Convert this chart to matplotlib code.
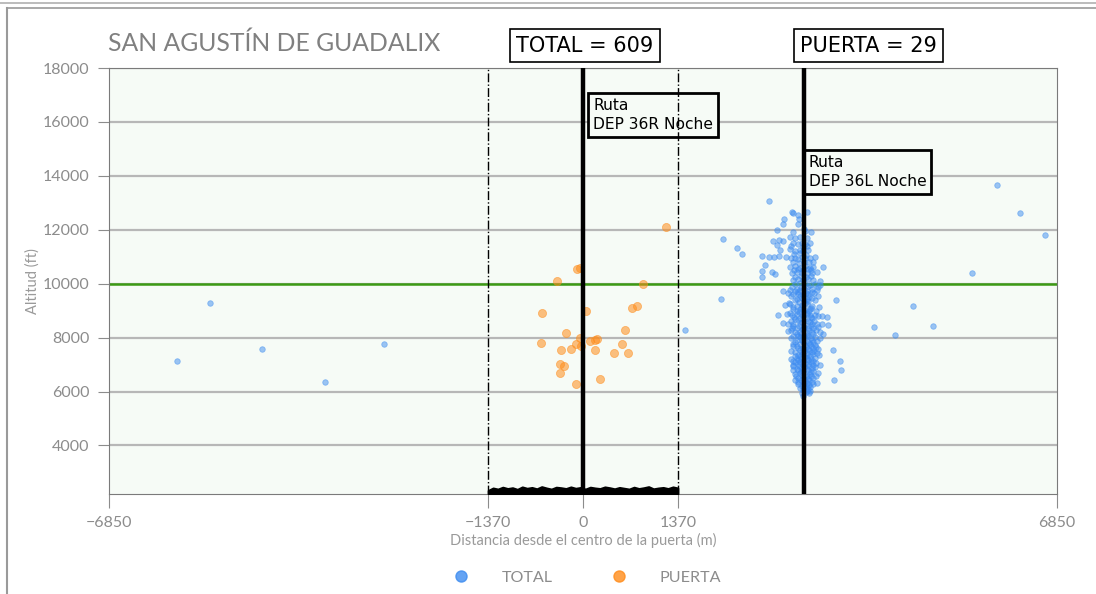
import numpy as np
import matplotlib.pyplot as plt
from matplotlib.lines import Line2D

# datos de la puerta
titulo = 'SAN AGUSTÍN DE GUADALIX'
n_total = 609
n_puerta = 29
semiancho = 1370
x_ruta_36l = 3200
x_ticks = [-6850, -1370, 0, 1370, 6850]
y_ticks = [4000, 6000, 8000, 10000, 12000, 14000, 16000, 18000]

# vuelos dentro de la puerta (m, ft)
puerta_x = [1195, -91, -48, -380, 872, 43, -588, 708, 785, 611, -250, -607, -48, -101,
            -33, 101, 178, 207, 559, -313, -178, 178, 452, 655, -332, -270, -328, 246, -101]
puerta_y = [12085, 10555, 10600, 10085, 10000, 9000, 8900, 9085, 9185, 8285, 8185, 7800,
            7975, 7780, 7700, 7860, 7925, 7960, 7765, 7530, 7580, 7530, 7445, 7430, 7010,
            6960, 6680, 6480, 6295]

# resto de vuelos
total_x = [-5867, -5390, -4639, -3728, -2876, 1474, 2023, 1990, 2225, 2302, 3652, 4210,
           4509, 3617, 3714, 3728, 3632, 4769, 5058, 5621, 5983, 6315, 6676,
           2692, 3016, 3039, 3233, 3112, 2909, 3121, 2895, 3103, 2799, 3190, 3210, 3040, 3295,
           2991, 3063, 3136, 3233, 2750, 2837, 2885, 3040, 3112, 3160, 3208, 3280, 2799,
           2847, 2991, 3063, 3136, 3184, 3256, 2582, 2692, 2760, 2837, 2933, 3001, 3063,
           3112, 3160, 3208, 3280, 3353,
           2630, 2991, 3063, 3136, 3208, 3280, 3329, 3465, 2582, 2727, 2775, 3015, 3088,
           3160, 3233, 3305, 3377,
           2582, 3040, 3112, 3184, 3256, 3329, 3425, 3063, 3136, 3208, 3280, 3353, 3425,
           2895, 2991, 3063, 3136, 3233, 3305, 3377, 3040, 3112, 3184, 3256, 3088, 3160,
           3233, 3305,
           2919, 2991, 3088, 3160, 3233, 3305, 3040, 3136, 3208, 3280, 2823, 2943, 3015,
           3088, 3160, 3233, 3280, 3353, 3449, 3530,
           3063, 3136, 3208, 3305, 2895, 2967, 3040, 3136, 3208, 3305, 3377, 3449, 3545,
           3015, 3088, 3160, 3256, 3329, 2967, 3063, 3136, 3233, 3305, 3425, 3473,
           3040, 3112, 3184, 3256, 3353, 3088, 3160, 3233, 3305, 3377, 3040, 3136, 3208,
           3280, 3353,
           3112, 3184, 3256, 3329, 3401, 3063, 3160, 3233, 3305, 3377, 3063, 3136, 3208,
           3280, 3353,
           3040, 3112, 3184, 3256, 3329, 3040, 3112, 3184, 3256, 3329, 3425, 3088, 3160,
           3233, 3305,
           3063, 3136, 3208, 3280, 3401, 3112, 3184, 3256, 3329, 3112, 3184, 3233, 3305, 3377,
           3160, 3233, 3280, 3184, 3233, 3280, 3184]
total_y = [7147, 9296, 7592, 6370, 7777, 8295, 11666, 9433, 11322, 11085, 9380, 8380,
           8085, 7544, 7147, 6814, 6433, 9185, 8444, 10407, 13666, 12629, 11815,
           13085, 12655, 12640, 12660, 12530, 12407, 12390, 12210, 12230, 12000, 12010, 11970, 11914, 11900,
           11720, 11700, 11740, 11710, 11566, 11603, 11600, 11500, 11480, 11520, 11460, 11510, 11444,
           11250, 11270, 11230, 11260, 11200, 11240, 11010, 11000, 10980, 11020, 10990, 10960, 10970,
           10930, 10990, 10950, 10940, 10980,
           10680, 10620, 10650, 10600, 10640, 10590, 10620, 10610, 10455, 10440, 10370, 10400, 10420,
           10380, 10410, 10390, 10430,
           10235, 10150, 10180, 10120, 10160, 10140, 10100, 9990, 10010, 9970, 9950, 10000, 9940,
           9740, 9760, 9720, 9750, 9730, 9710, 9760, 9600, 9620, 9580, 9610, 9450, 9470,
           9430, 9460,
           9200, 9250, 9180, 9220, 9240, 9190, 9050, 9070, 9030, 9060, 8850, 8870, 8830,
           8860, 8840, 8880, 8820, 8850, 8800, 8780,
           8700, 8720, 8680, 8710, 8530, 8510, 8500, 8540, 8480, 8520, 8490, 8500, 8480,
           8350, 8370, 8330, 8360, 8340, 8230, 8200, 8220, 8180, 8210, 8190, 8150,
           8050, 8070, 8030, 8060, 8040, 7900, 7920, 7880, 7910, 7870, 7750, 7770, 7730,
           7760, 7740,
           7600, 7620, 7580, 7610, 7570, 7450, 7470, 7430, 7460, 7440, 7300, 7320, 7280,
           7310, 7260,
           7150, 7170, 7130, 7160, 7140, 7000, 7020, 6980, 7010, 6970, 6990, 6850, 6870,
           6830, 6860,
           6650, 6670, 6630, 6660, 6700, 6500, 6520, 6480, 6510, 6350, 6370, 6330, 6360, 6300,
           6200, 6220, 6180, 6050, 6030, 6010, 5850]

# núcleo del haz de la 36L
nucleo_x = [3040, 3120, 3200, 3260, 3320, 3000, 3180, 3240, 3050, 3130, 3220,
            3050, 3110, 3180, 3250, 3300, 3070, 3150, 3220, 3290,
            3020, 3150, 3250, 3390, 3090, 3200, 3310, 2960, 3100, 3220, 3340,
            3010, 3140, 3270, 3395, 3060, 3190, 3250, 3350, 2980, 3120, 3215,
            3030, 3170, 3290, 3410, 3090, 3180, 3260, 3360, 2990, 3120, 3230,
            3050, 3185, 3300, 3400, 3010, 3100, 3250, 3340, 3170, 3280,
            3040, 3120, 3200, 3290, 3390, 3000, 3180, 3270, 3360, 3090, 3150, 3240, 3320,
            3000, 3130, 3210, 3300, 3420, 3060, 3180, 3260, 3330,
            3030, 3090, 3220, 3300, 3370, 3000, 3130, 3190, 3270, 3340,
            3100, 3170, 3240, 3320, 3410, 3010, 3090, 3150, 3230, 3300,
            3070, 3140, 3210, 3290, 3370, 3030, 3120, 3190, 3270, 3350,
            3040, 3110, 3180, 3250, 3330, 3150, 3300, 3080, 3160, 3230, 3300, 3360,
            3060, 3150, 3210, 3270, 3110, 3190, 3260, 3330, 3140, 3200, 3250,
            3170, 3220, 3260]
nucleo_y = [10800, 10780, 10820, 10790, 10810, 11380, 11360, 11400, 11100, 11120, 11080,
            10520, 10540, 10500, 10530, 10510, 10260, 10280, 10240, 10270,
            9880, 9860, 9900, 9870, 9800, 9820, 9790, 9660, 9680, 9640, 9670,
            9530, 9550, 9510, 9540, 9380, 9400, 9360, 9390, 9300, 9320, 9280,
            9130, 9150, 9110, 9140, 8990, 9010, 8970, 9000, 8920, 8940, 8900,
            8780, 8800, 8760, 8790, 8620, 8640, 8600, 8630, 8570, 8590,
            8420, 8440, 8400, 8430, 8410, 8290, 8310, 8270, 8300, 8120, 8140, 8100, 8130,
            7990, 8010, 7970, 8000, 7980, 7830, 7850, 7810, 7840,
            7680, 7700, 7660, 7690, 7670, 7520, 7540, 7500, 7530, 7510,
            7370, 7390, 7350, 7380, 7360, 7220, 7240, 7200, 7230, 7210,
            7080, 7100, 7060, 7090, 7070, 6930, 6950, 6910, 6940, 6920,
            6780, 6800, 6760, 6790, 6770, 6720, 6740, 6580, 6600, 6560, 6590, 6570,
            6420, 6440, 6400, 6430, 6270, 6290, 6250, 6280, 6130, 6150, 6110,
            5960, 5980, 5940]

# cruces por la puerta (altura de la franja inferior)
franja_top = [2330, 2420, 2380, 2450, 2400, 2430, 2370, 2460, 2410, 2440, 2390, 2470,
              2420, 2380, 2450, 2430, 2400, 2460, 2410, 2440, 2380, 2450, 2420, 2400,
              2460, 2430, 2390, 2440, 2410, 2380, 2450, 2400, 2430, 2470, 2390, 2420,
              2440, 2400, 2460, 2420]

gris = '#8c8c8c'
fuente = ['Lato', 'DejaVu Sans']

fig = plt.figure(figsize=(10.96, 5.94), dpi=100)
ax = fig.add_axes([0.0995, 0.1684, 0.8649, 0.7171])
ax.set_facecolor('#f6fbf6')

ax.set_xlim(-6850, 6850)
ax.set_ylim(2200, 18000)
ax.set_xticks(x_ticks)
ax.set_xticklabels(['\u22126850', '\u22121370', '0', '1370', '6850'])
ax.set_yticks(y_ticks)
for t in ax.get_xticklabels() + ax.get_yticklabels():
    t.set_family(fuente)
    t.set_fontsize(11.5)
    t.set_color(gris)
ax.tick_params(axis='x', length=10, color=gris, pad=6)
ax.tick_params(axis='y', length=8, color=gris, pad=6)
for s in ax.spines.values():
    s.set_color('#7a7a7a')
    s.set_linewidth(0.8)

ax.grid(axis='y', color='#b7b7b7', lw=1.6, zorder=0)
ax.set_axisbelow(True)

ax.axhline(10000, color='#3c9a14', lw=1.8, zorder=2)
ax.axvline(-semiancho, color='black', lw=1, ls='-.', zorder=5)
ax.axvline(semiancho, color='black', lw=1, ls='-.', zorder=5)
ax.axvline(0, color='black', lw=3.2, zorder=6)
ax.axvline(x_ruta_36l, color='black', lw=3.2, zorder=6)

fx = np.linspace(-semiancho, semiancho, len(franja_top))
ax.fill_between(fx, 2200, franja_top, color='black', zorder=6, lw=1.5, edgecolor='black')

azul = '#3d8cf0'
ax.scatter(total_x + nucleo_x, total_y + nucleo_y, s=16, color=azul, alpha=0.5,
           edgecolors=azul, linewidths=0.6, zorder=3, label='TOTAL')
ax.scatter(puerta_x, puerta_y, s=34, color='#ff8c1a', alpha=0.55, edgecolors='#ff8c1a',
           linewidths=0.6, zorder=4, label='PUERTA')

caja = dict(boxstyle='square,pad=0.3', fc='#f6fbf6', ec='black', lw=2)
ax.text(145, 16900, 'Ruta\nDEP 36R Noche', fontsize=11.2, va='top', ha='left', bbox=caja, zorder=4,
        linespacing=1.35)
ax.text(3266, 14780, 'Ruta\nDEP 36L Noche', fontsize=11.2, va='top', ha='left', bbox=caja, zorder=4,
        linespacing=1.35)

ax.set_xlabel('Distancia desde el centro de la puerta (m)', family=fuente, fontsize=10.5,
              color='#9a9a9a', labelpad=2)
ax.set_ylabel('Altitud (ft)', family=fuente, fontsize=10.5, color='#9a9a9a', labelpad=2)

fig.text(0.0985, 0.928, titulo, family=fuente, fontsize=17.8, color='#808080', va='center', ha='left')
caja2 = dict(boxstyle='square,pad=0.3', fc='white', ec='black', lw=1.2)
fig.text(0.5335, 0.9234, f'TOTAL = {n_total}', fontsize=15, ha='center', va='center', bbox=caja2)
fig.text(0.7924, 0.9234, f'PUERTA = {n_puerta}', fontsize=15, ha='center', va='center', bbox=caja2)

h = [Line2D([], [], ls='', marker='o', ms=8, color=azul, alpha=0.8),
     Line2D([], [], ls='', marker='o', ms=8, color='#ff8c1a', alpha=0.8)]
fig.legend(h, ['TOTAL', 'PUERTA'], loc='center', bbox_to_anchor=(0.5356, 0.027), ncol=2,
           frameon=False, handlelength=1, handletextpad=2.0, columnspacing=3.6,
           prop={'family': fuente, 'size': 11.6}, labelcolor='#8c8c8c')

# marco
fig.add_artist(Line2D([0, 1], [1 - 3 / 594, 1 - 3 / 594], color='#b0b0b0', lw=1.2))
fig.add_artist(Line2D([7 / 1096, 1], [1 - 8 / 594, 1 - 8 / 594], color='#9a9a9a', lw=1.2))
fig.add_artist(Line2D([7 / 1096, 7 / 1096], [0, 1 - 8 / 594], color='#9a9a9a', lw=1.5))

fig.savefig('out.png', dpi=100)
